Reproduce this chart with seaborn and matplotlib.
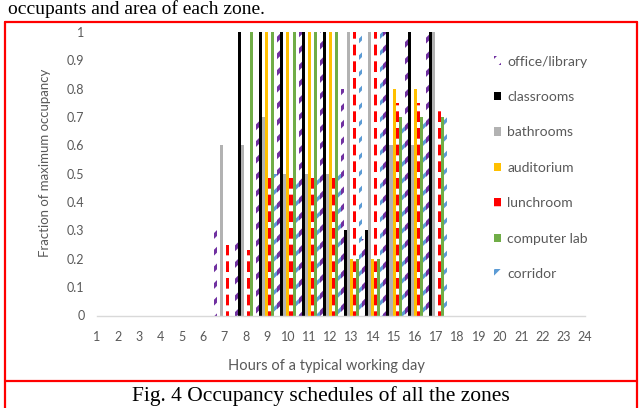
import matplotlib.pyplot as plt
import seaborn as sns
import pandas as pd
from matplotlib.lines import Line2D

hours = list(range(1, 25))
zones = ["office/library", "classrooms", "bathrooms", "auditorium",
         "lunchroom", "computer lab", "corridor"]

office = [0, 0, 0, 0, 0, 0, 0.3, 0.28, 0.7, 1, 1, 1, 0.8, 0.27, 1, 1, 1, 0, 0, 0, 0, 0, 0, 0]
classrooms = [0, 0, 0, 0, 0, 0, 0, 1, 1, 1, 1, 1, 0.3, 0.3, 1, 1, 1, 0, 0, 0, 0, 0, 0, 0]
bathrooms = [0, 0, 0, 0, 0, 0, 0.6, 0.6, 0.7, 0.5, 0.5, 0.5, 1, 1, 0.6, 0.6, 1, 0, 0, 0, 0, 0, 0, 0]
auditorium = [0, 0, 0, 0, 0, 0, 0, 0, 1, 1, 1, 1, 0.2, 0.2, 0.8, 0.8, 0, 0, 0, 0, 0, 0, 0, 0]
lunchroom = [0, 0, 0, 0, 0, 0, 0.25, 0.23, 0.49, 0.5, 0.5, 0.49, 1, 1, 0.75, 0.75, 0.74, 0, 0, 0, 0, 0, 0, 0]
computer_lab = [0, 0, 0, 0, 0, 0, 0, 1, 1, 1, 1, 1, 0.2, 0.2, 0.7, 0.7, 0.7, 0, 0, 0, 0, 0, 0, 0]
corridor = [0, 0, 0, 0, 0, 0, 0, 0, 0.5, 0.5, 0.5, 0.5, 1, 1, 0.7, 0.7, 0.7, 0, 0, 0, 0, 0, 0, 0]

yticks = [0, 0.1, 0.2, 0.3, 0.4, 0.5, 0.6, 0.7, 0.8, 0.9, 1]
ytick_labels = ["0", "0.1", "0.2", "0.3", "0.4", "0.5", "0.6", "0.7", "0.8", "0.9", "1"]

series = [office, classrooms, bathrooms, auditorium, lunchroom, computer_lab, corridor]
rows = []
for zone, vals in zip(zones, series):
    for h, v in zip(hours, vals):
        rows.append({"hour": str(h), "zone": zone, "value": v})
df = pd.DataFrame(rows)

# face, hatch colour, hatch, hatch linewidth
styles = {
    "office/library": ("white", "#7030A0", "//", 3.0),
    "classrooms": ("black", "black", None, 0),
    "bathrooms": ("#B2B2B2", "#B2B2B2", None, 0),
    "auditorium": ("#FFC000", "#FFC000", None, 0),
    "lunchroom": ("#FF0000", "white", "-", 4.3),
    "computer lab": ("#70AD47", "#70AD47", None, 0),
    "corridor": ("white", "#5B9BD5", "//", 2.4),
}

sns.set_style("white")
plt.rcParams["font.family"] = ["Lato", "DejaVu Sans"]
plt.rcParams["hatch.linewidth"] = 3.0

fig = plt.figure(figsize=(6.41, 4.08), dpi=100)
ax = fig.add_axes([97 / 641, 1 - 315.5 / 408, 488 / 641, 283.5 / 408])

sns.barplot(data=df, x="hour", y="value", hue="zone", hue_order=zones,
            order=[str(h) for h in hours], palette=[styles[z][0] for z in zones],
            width=1.0, gap=0, saturation=1, errorbar=None, ax=ax, legend=True)

for zone, cont in zip(zones, ax.containers):
    face, hcol, hatch, hlw = styles[zone]
    for p in cont.patches:
        p.set_facecolor(face)
        p.set_edgecolor(hcol)
        p.set_linewidth(0)
        if hatch:
            p.set_hatch(hatch)
            if hasattr(p, "set_hatch_linewidth"):
                p.set_hatch_linewidth(hlw)

ax.set_xlim(0, 23)
ax.set_ylim(0, 1)
ax.set_yticks(yticks)
ax.set_yticklabels(ytick_labels)
ax.tick_params(axis="y", length=0, pad=9, labelsize=9, labelcolor="#595959")
ax.tick_params(axis="x", length=0, pad=11, labelsize=9, labelcolor="#595959")
ax.set_xlabel("")
ax.set_ylabel("")
for s in ["top", "right", "left"]:
    ax.spines[s].set_visible(False)
ax.spines["bottom"].set_color("#D9D9D9")
ax.spines["bottom"].set_linewidth(1)

fig.text(45 / 641, 1 - 163 / 408, "Fraction of maximum occupancy", rotation=90,
         ha="center", va="center", fontsize=9.5, color="#595959")
fig.text(326 / 641, 1 - 366 / 408, "Hours of a typical working day",
         ha="center", va="center", fontsize=10.5, color="#595959")

handles, labels = ax.get_legend_handles_labels()
ax.legend_.remove()
for zone, hnd in zip(zones, handles):
    face, hcol, hatch, hlw = styles[zone]
    hnd.set_facecolor(face)
    hnd.set_edgecolor(hcol)
    hnd.set_linewidth(0)
    if hatch:
        hnd.set_hatch(hatch)
fig.legend(handles, labels, loc="upper left", bbox_to_anchor=(481 / 641, 1 - 43 / 408),
           frameon=False, fontsize=10, labelcolor="#595959", handlelength=0.55,
           handleheight=0.55, handletextpad=0.45, labelspacing=1.69)

# document frame and caption
red = "#FF0000"
for xs, ys in [([5, 637], [22, 22]), ([5, 637], [381, 381]),
               ([5, 5], [22, 408]), ([637, 637], [22, 408])]:
    fig.add_artist(Line2D([x / 641 for x in xs], [1 - y / 408 for y in ys],
                          transform=fig.transFigure, color=red, lw=1.6))
fig.text(8 / 641, 1 - 14 / 408, "occupants and area of each zone.",
         family="Liberation Serif", fontsize=14, va="baseline", color="black")
fig.text(321 / 641, 1 - 396 / 408, "Fig. 4 Occupancy schedules of all the zones",
         family="Liberation Serif", fontsize=15.5, ha="center", va="center", color="black")

fig.savefig("out.png", dpi=100)
